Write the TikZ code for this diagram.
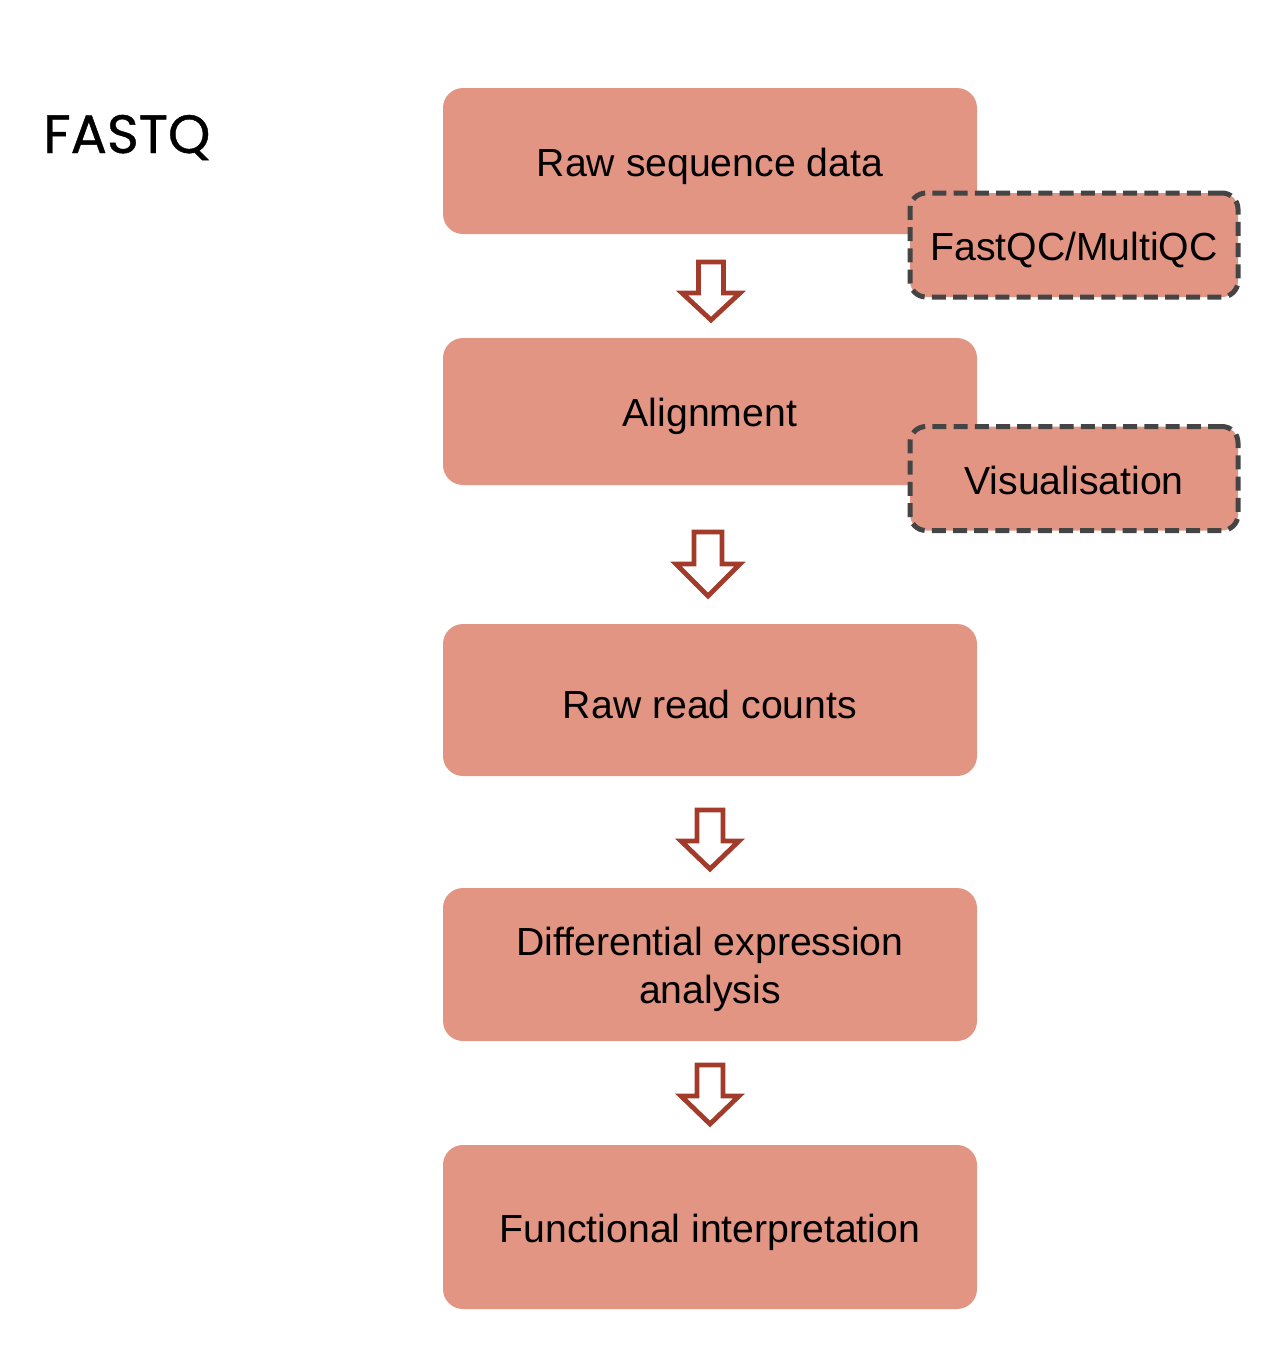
\documentclass[tikz,border=0pt]{standalone}
\usepackage{fontspec}
\setmainfont{Liberation Sans}
\newfontfamily\titlefont[FakeBold=0.8]{Poppins}
\definecolor{salmon}{HTML}{E29583}
\definecolor{arrowred}{HTML}{A33B2B}
\definecolor{dashgray}{HTML}{444444}
\begin{document}
\begin{tikzpicture}[x=0.5pt,y=-0.5pt,
  stepbox/.style={fill=salmon, draw=none, rounded corners=10pt, minimum width=267pt,
    inner sep=0pt},
  steptext/.style={align=center, inner sep=0pt, font=\fontsize{19.6}{24}\selectfont},
  toolbox/.style={fill=salmon, draw=dashgray, line width=2.5pt, dash pattern=on 7pt off 3.6pt,
    rounded corners=8pt, minimum width=164pt, minimum height=52pt, inner sep=0pt},
  blockarrow/.style={draw=arrowred, fill=white, line width=2.4pt, line join=miter}]
\useasboundingbox (0,0) rectangle (1266,1372);
\node[font=\titlefont\fontsize{27}{32}\selectfont, anchor=base west, inner sep=0pt] (fastq) at (43,153) {FASTQ};
\node[stepbox, minimum height=73pt] (raw) at (710,161) {};
\node[stepbox, minimum height=73.5pt] (align) at (710,411.5) {};
\node[stepbox, minimum height=76pt] (counts) at (710,700) {};
\node[stepbox, minimum height=76.5pt] (de) at (710,964.5) {};
\node[stepbox, minimum height=82pt] (func) at (710,1227) {};
\node[steptext] (rawt) at ([yshift=-2.5pt]raw.center) {Raw sequence data};
\node[steptext] (alignt) at ([yshift=-2.5pt]align.center) {Alignment};
\node[steptext] (countst) at ([yshift=-2pt]counts.center) {Raw read counts};
\node[steptext] (det) at ([yshift=-2.5pt]de.center) {Differential expression\\analysis};
\node[steptext] (funct) at ([yshift=-2.5pt]func.center) {Functional interpretation};
\node[toolbox] (qc) at (1074,245) {};
\node[toolbox] (vis) at (1074,478.5) {};
\node[steptext] (qct) at ([yshift=-2.5pt]qc.center) {FastQC/MultiQC};
\node[steptext] (vist) at ([yshift=-1pt]vis.center) {Visualisation};
% #1 x, #2 top, #3 shaft half width, #4 head start, #5 head half width, #6 tip
\newcommand\bArrow[6]{%
  \draw[blockarrow] (#1-#3,#2) -- (#1+#3,#2) -- (#1+#3,#4) -- (#1+#5,#4) --
    (#1,#6) -- (#1-#5,#4) -- (#1-#3,#4) -- cycle;}
\bArrow{711}{262}{12.5}{293}{29}{320}
\bArrow{708}{532}{14}{564}{32}{596}
\bArrow{710}{810}{13}{841}{29}{869}
\bArrow{710}{1065}{13}{1096}{29}{1124}
\end{tikzpicture}
\end{document}
